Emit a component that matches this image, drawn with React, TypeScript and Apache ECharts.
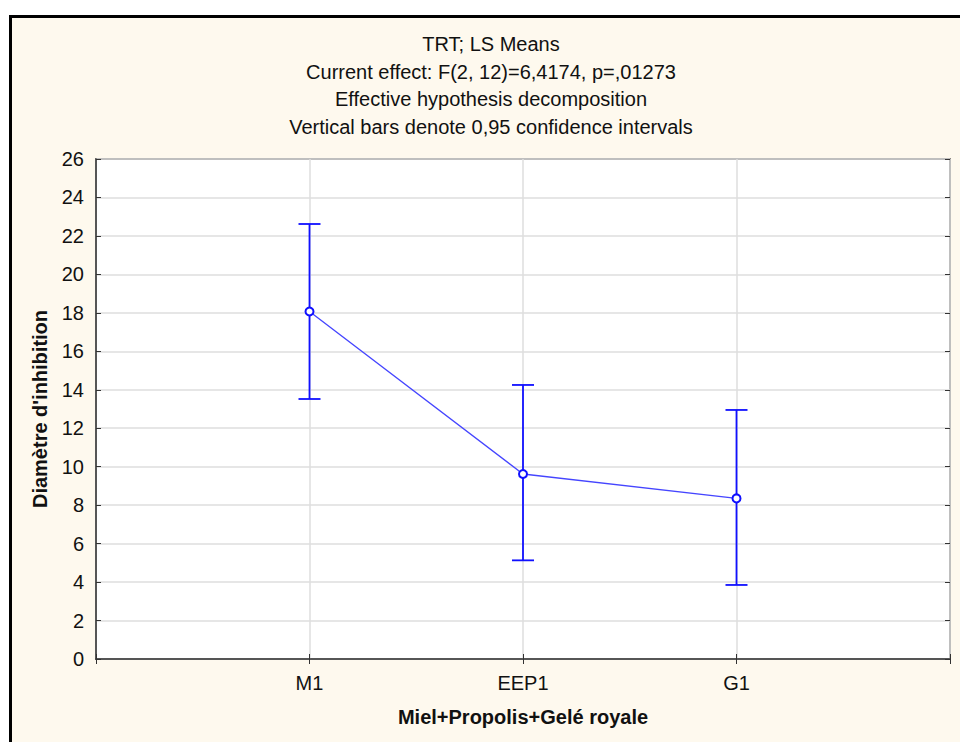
import React, { useEffect, useRef } from "react";
import * as echarts from "echarts";

const categories = ["", "M1", "EEP1", "G1", ""];
const groups = ["M1", "EEP1", "G1"];
const means = [18.07, 9.62, 8.35];
const lower = [13.52, 5.13, 3.85];
const upper = [22.62, 14.25, 12.95];
const yTicks = { min: 0, max: 26, interval: 2 };
const titleLines = [
  "TRT; LS Means",
  "Current effect: F(2, 12)=6,4174, p=,01273",
  "Effective hypothesis decomposition",
  "Vertical bars denote 0,95 confidence intervals",
];
const xName = "Miel+Propolis+Gelé royale";
const yName = "Diamètre d'inhibition";

const FONT = "'Liberation Sans', Arial, sans-serif";
const BLUE = "#1010ff";

export default function App() {
  const ref = useRef<HTMLDivElement>(null);
  useEffect(() => {
    if (!ref.current) return;
    const chart = echarts.init(ref.current, null, { renderer: "svg" });
    const grid = { left: 96, top: 159, width: 854, height: 500 };
    const option: any = {
      animation: false,
      backgroundColor: "#ffffff",
      textStyle: { fontFamily: FONT },
      graphic: [
        {
          type: "rect",
          z: -10,
          silent: true,
          shape: { x: 10.5, y: 16.5, width: 1000, height: 800 },
          style: { fill: "#fef9ee", stroke: "#000", lineWidth: 3 },
        },
        ...titleLines.map((t, i) => ({
          type: "text",
          x: 491,
          y: 44 + i * 27.7,
          style: {
            text: t,
            fill: "#111",
            font: `20px ${FONT}`,
            textAlign: "center",
            textVerticalAlign: "middle",
          },
        })),
      ],
      grid: {
        ...grid,
        show: true,
        backgroundColor: "#ffffff",
        borderColor: "#333",
        borderWidth: 1.5,
        containLabel: false,
      },
      xAxis: [
        {
          type: "category",
          data: categories,
          boundaryGap: false,
          position: "bottom",
          axisLine: { show: true, lineStyle: { color: "#333", width: 1.5 } },
          axisTick: { show: true, inside: true, length: 5, lineStyle: { color: "#333" } },
          axisLabel: { fontSize: 20, color: "#111", margin: 14, fontFamily: FONT },
          splitLine: { show: true, lineStyle: { color: "#dedede", width: 1.5 } },
          name: xName,
          nameLocation: "middle",
          nameGap: 48,
          nameTextStyle: { fontSize: 20, fontWeight: "bold", color: "#111", fontFamily: FONT },
        },
        {
          type: "category",
          data: categories,
          boundaryGap: false,
          position: "top",
          axisLine: { show: false },
          axisTick: { show: true, inside: true, length: 5, lineStyle: { color: "#333" } },
          axisLabel: { show: false },
          splitLine: { show: false },
        },
      ],
      yAxis: [
        {
          type: "value",
          ...yTicks,
          position: "left",
          axisLine: { show: true, lineStyle: { color: "#333", width: 1.5 } },
          axisTick: { show: true, inside: true, length: 5, lineStyle: { color: "#333" } },
          axisLabel: { fontSize: 20, color: "#111", margin: 12, fontFamily: FONT },
          splitLine: { show: true, lineStyle: { color: "#dedede", width: 1.5 } },
          name: yName,
          nameLocation: "middle",
          nameGap: 46,
          nameTextStyle: { fontSize: 20, fontWeight: "bold", color: "#111", fontFamily: FONT },
        },
        {
          type: "value",
          ...yTicks,
          position: "right",
          axisLine: { show: false },
          axisTick: { show: true, inside: true, length: 5, lineStyle: { color: "#333" } },
          axisLabel: { show: false },
          splitLine: { show: false },
        },
      ],
      series: [
        {
          type: "custom",
          xAxisIndex: 0,
          yAxisIndex: 0,
          data: groups.map((g, i) => [g, lower[i], upper[i]]),
          renderItem: (params: any, api: any) => {
            const x = api.value(0);
            const lo = api.coord([x, api.value(1)]);
            const hi = api.coord([x, api.value(2)]);
            const half = 11;
            const style = { stroke: BLUE, lineWidth: 1.8 };
            return {
              type: "group",
              children: [
                { type: "line", shape: { x1: lo[0], y1: lo[1], x2: hi[0], y2: hi[1] }, style },
                { type: "line", shape: { x1: hi[0] - half, y1: hi[1], x2: hi[0] + half, y2: hi[1] }, style },
                { type: "line", shape: { x1: lo[0] - half, y1: lo[1], x2: lo[0] + half, y2: lo[1] }, style },
              ],
            };
          },
          z: 3,
        },
        {
          type: "line",
          xAxisIndex: 0,
          yAxisIndex: 0,
          data: groups.map((g, i) => [g, means[i]]),
          symbol: "emptyCircle",
          symbolSize: 8,
          lineStyle: { color: "#4545ff", width: 1.3 },
          itemStyle: { color: BLUE, borderColor: BLUE, borderWidth: 1.8 },
          z: 4,
        },
      ],
    };
    chart.setOption(option);
    return () => chart.dispose();
  }, []);
  return (
    <div
      ref={ref}
      style={{ position: "fixed", left: 0, top: 0, width: 960, height: 742 }}
    />
  );
}
